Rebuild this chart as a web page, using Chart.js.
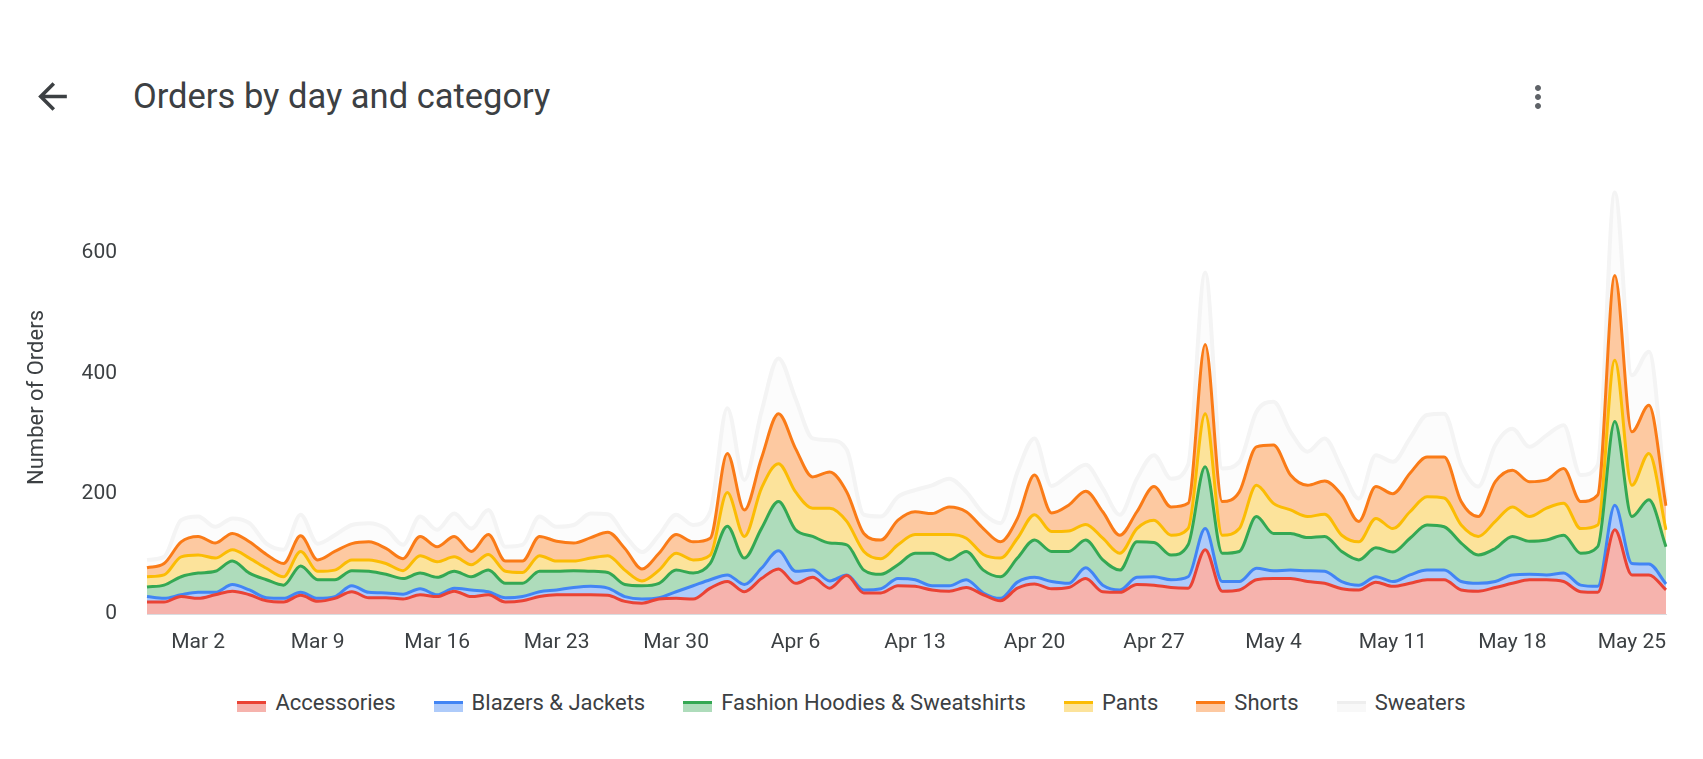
<!doctype html>
<html lang="en">
  <head>
    <meta charset="utf-8">
    <title>Orders by day and category</title>
    <style>
    body {
      margin: 0;
      width: 1703px;
      height: 759px;
      background: #fff;
      font-family: Roboto, "Noto Sans", sans-serif;
      color: #3c4043;
      position: relative;
      overflow: hidden;
    }
    #back { position: absolute; left: 31px; top: 75px; }
    #menu { position: absolute; left: 1520px; top: 79px; }
    #title {
      position: absolute; left: 133px; top: 76px;
      font-size: 34.5px; line-height: 40px; color: #3c4043;
    }
    #wrap { position: absolute; left: 0; top: 0; width: 1703px; height: 680px; }
    #legend {
      position: absolute; left: 0; top: 688px; width: 1703px;
      display: flex; justify-content: center; align-items: center;
      font-size: 22px; line-height: 30px;
    }
    .item { display: flex; align-items: center; margin-right: 38px; }
    .item:last-child { margin-right: 0; }
    .swatch { width: 29px; height: 8px; border-top: 3px solid; margin-right: 9px; margin-top: 6px; }
    </style>
  </head>
  <body>
    <svg id="back" width="43" height="43" viewBox="0 0 24 24"><path fill="#3c4043" d="M20 11H7.83l5.59-5.59L12 4l-8 8 8 8 1.41-1.41L7.83 13H20v-2z"/></svg>
    <div id="title">Orders by day and category</div>
    <svg id="menu" width="36" height="36" viewBox="0 0 24 24"><path fill="#5f6368" d="M12 8c1.1 0 2-.9 2-2s-.9-2-2-2-2 .9-2 2 .9 2 2 2zm0 2c-1.1 0-2 .9-2 2s.9 2 2 2 2-.9 2-2-.9-2-2-2zm0 6c-1.1 0-2 .9-2 2s.9 2 2 2 2-.9 2-2-.9-2-2-2z"/></svg>

    <div id="wrap"><canvas id="canvas" width="1703" height="680"></canvas></div>
    <div id="legend"></div>

    <script src="https://cdn.jsdelivr.net/npm/chart.js@4"></script>
    <script>
    const days = [
      'Feb 27','Feb 28',
      'Mar 1','Mar 2','Mar 3','Mar 4','Mar 5','Mar 6','Mar 7','Mar 8','Mar 9','Mar 10',
      'Mar 11','Mar 12','Mar 13','Mar 14','Mar 15','Mar 16','Mar 17','Mar 18','Mar 19','Mar 20',
      'Mar 21','Mar 22','Mar 23','Mar 24','Mar 25','Mar 26','Mar 27','Mar 28','Mar 29','Mar 30','Mar 31',
      'Apr 1','Apr 2','Apr 3','Apr 4','Apr 5','Apr 6','Apr 7','Apr 8','Apr 9','Apr 10',
      'Apr 11','Apr 12','Apr 13','Apr 14','Apr 15','Apr 16','Apr 17','Apr 18','Apr 19','Apr 20',
      'Apr 21','Apr 22','Apr 23','Apr 24','Apr 25','Apr 26','Apr 27','Apr 28','Apr 29','Apr 30',
      'May 1','May 2','May 3','May 4','May 5','May 6','May 7','May 8','May 9','May 10',
      'May 11','May 12','May 13','May 14','May 15','May 16','May 17','May 18','May 19','May 20',
      'May 21','May 22','May 23','May 24','May 25','May 26','May 27'
    ];
    const tickLabels = ['Mar 2','Mar 9','Mar 16','Mar 23','Mar 30','Apr 6','Apr 13','Apr 20','Apr 27','May 4','May 11','May 18','May 25'];

    const accessories = [20,20,29,26,32,38,32,22,20,31,21,26,37,27,27,25,32,29,38,29,32,20,22,29,32,32,32,31,21,18,
      25,26,25,43,54,37,59,75,51,61,43,64,35,35,47,46,40,38,44,32,22,43,50,42,44,59,37,36,49,48,
      44,43,107,38,40,57,59,59,54,51,42,40,53,46,51,57,57,40,38,44,51,57,57,54,37,36,140,65,65,40];
    const blazers = [9,6,3,10,4,11,8,5,6,5,5,3,10,9,8,8,10,3,5,11,5,7,7,8,8,12,14,12,8,7,
      2,11,22,14,11,12,17,30,20,12,12,1,5,7,12,11,7,9,13,3,4,10,11,12,7,18,11,4,12,14,
      13,19,35,16,14,19,13,14,18,20,12,8,9,8,14,16,16,14,13,10,14,9,8,14,11,10,41,19,18,10];
    const hoodies = [16,22,30,32,35,39,28,30,22,44,31,28,25,35,31,26,26,29,28,22,36,24,22,34,31,28,25,26,20,22,
      24,36,21,27,81,44,66,82,69,56,63,50,33,24,23,44,54,43,47,38,36,40,62,50,53,46,42,33,59,57,
      41,53,103,47,50,86,62,61,55,58,50,42,48,49,61,75,72,64,47,55,64,55,58,63,53,66,139,78,107,62];
    const pants = [17,17,33,30,22,19,25,19,14,24,14,16,18,19,18,13,29,26,24,20,26,20,18,26,17,16,22,28,24,8,
      22,28,22,14,56,36,67,63,63,47,58,39,31,26,33,31,31,42,22,26,31,33,42,33,34,26,36,28,22,37,
      33,27,88,30,38,52,50,39,35,37,27,30,49,39,44,47,48,30,31,45,49,41,53,53,41,36,102,52,77,28];
    const shorts = [15,19,25,31,25,27,27,23,22,26,19,31,27,30,25,20,32,25,34,22,33,17,19,32,33,30,34,39,36,20,
      28,31,30,28,65,44,50,83,72,52,60,49,30,31,41,38,35,46,44,43,27,33,66,31,43,55,44,30,28,56,
      47,42,115,56,61,64,97,58,52,55,67,34,53,58,64,66,68,39,33,66,61,58,47,58,45,50,141,89,80,40];
    const sweaters = [13,11,36,33,27,25,31,18,23,35,27,27,31,31,33,23,33,28,38,38,41,24,27,33,24,30,40,30,22,28,
      30,33,28,44,75,50,77,92,83,64,53,70,31,39,39,36,47,47,33,25,31,77,61,45,50,44,39,34,55,52,
      47,64,120,55,50,58,72,72,56,71,44,38,52,53,58,70,72,61,50,61,69,58,74,72,44,50,138,94,89,8];

    const series = [
      { label: 'Accessories', data: accessories, line: '#ea4335', fill: '#f6b3ad' },
      { label: 'Blazers & Jackets', data: blazers, line: '#4285f4', fill: '#aecbfa' },
      { label: 'Fashion Hoodies & Sweatshirts', data: hoodies, line: '#34a853', fill: '#aedcbb' },
      { label: 'Pants', data: pants, line: '#fbbc04', fill: '#fce39b' },
      { label: 'Shorts', data: shorts, line: '#fa7b17', fill: '#fdc9a1' },
      { label: 'Sweaters', data: sweaters, line: '#f4f4f4', fill: '#fcfcfc' }
    ];

    const tickFont = { family: 'Roboto', size: 21 };

    new Chart(document.getElementById('canvas').getContext('2d'), {
      type: 'line',
      data: {
        labels: days,
        datasets: series.map((s, i) => ({
          label: s.label,
          data: s.data,
          borderColor: s.line,
          backgroundColor: s.fill,
          borderWidth: i === 5 ? 4 : 3,
          fill: i === 0 ? 'origin' : '-1',
          cubicInterpolationMode: 'monotone',
          pointRadius: 0
        }))
      },
      options: {
        responsive: false,
        animation: false,
        layout: { padding: { left: 0, right: 37, top: 181, bottom: 0 } },
        plugins: {
          legend: { display: false },
          tooltip: { enabled: false }
        },
        scales: {
          x: {
            grid: { display: false, drawTicks: false },
            border: { color: '#dadce0' },
            ticks: {
              autoSkip: false,
              maxRotation: 0,
              padding: 16,
              color: '#3c4043',
              font: tickFont,
              callback: (v, i) => tickLabels.includes(days[i]) ? days[i] : null
            },
            afterFit: (s) => { s.height = 66; }
          },
          y: {
            stacked: true,
            min: 0,
            max: 720,
            grid: { display: false, drawTicks: false },
            border: { display: false },
            ticks: {
              stepSize: 200,
              padding: 30,
              color: '#3c4043',
              font: tickFont,
              callback: (v) => v % 200 === 0 ? v : null
            },
            title: {
              display: true,
              text: 'Number of Orders',
              color: '#3c4043',
              font: { family: 'Roboto', size: 22 },
              padding: { top: 24, bottom: 0 }
            },
            afterFit: (s) => { s.width = 147; }
          }
        }
      }
    });

    // legend drawn as html, same colours as the chart
    const legend = document.getElementById('legend');
    series.forEach((s) => {
      const item = document.createElement('div');
      item.className = 'item';
      item.innerHTML = '<div class="swatch" style="border-color:' + (s.label === 'Sweaters' ? '#eeeeee' : s.line) +
        ';background:' + (s.label === 'Sweaters' ? '#f8f8f8' : s.fill) + '"></div><span></span>';
      item.querySelector('span').textContent = s.label;
      legend.appendChild(item);
    });
    </script>
  </body>
</html>
